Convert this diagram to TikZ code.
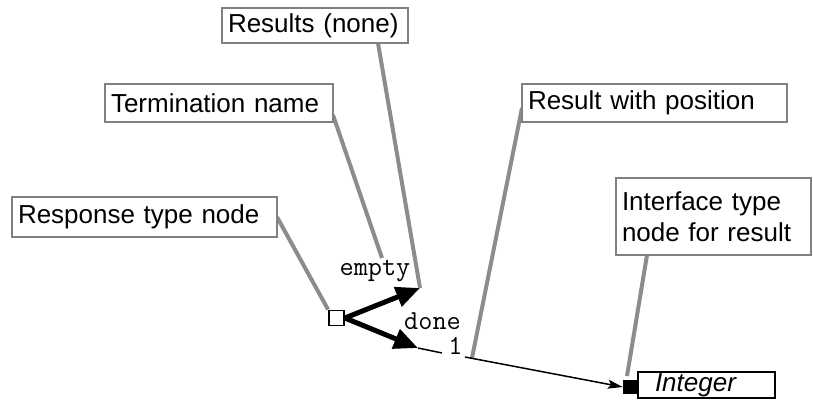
\documentclass[tikz,border=0pt]{standalone}
\usepackage{fontspec}
\setmainfont{Liberation Sans}
\usetikzlibrary{arrows.meta,calc}
\definecolor{boxgray}{RGB}{128,128,128}
\definecolor{leadgray}{RGB}{140,140,140}

\begin{document}
\begin{tikzpicture}[x=1pt,y=-1pt,
  callout/.style={draw=boxgray, line width=1.8pt, fill=white, inner xsep=6pt,
    inner ysep=0pt, align=left, font=\fontsize{26}{31}\selectfont},
  leader/.style={draw=leadgray, line width=4pt},
  codelabel/.style={font=\ttfamily\fontsize{27.5}{32}\selectfont, anchor=base, inner sep=0pt},
  flow/.style={line width=5pt, -{Triangle[length=24pt,width=20pt]}},
]
\useasboundingbox (0,0) rectangle (813,404);

% the response node, its ports and the result type
\node[draw, line width=1.8pt, fill=white, minimum width=15pt, minimum height=15pt,
  inner sep=0pt] (sq) at (336.5,318) {};
\node[fill=black, minimum width=15pt, minimum height=14pt, inner sep=0pt] (port) at (630.5,387) {};
\node[draw, line width=1.5pt, inner xsep=17pt, inner ysep=0pt, text width=103pt,
  minimum height=26pt, align=left, font=\fontsize{26}{31}\selectfont\itshape]
  (int) at (706.5,385) {Integer};

% ends of the termination arrows and of the callout leaders
\coordinate (emptyTip) at (420,288);
\coordinate (doneTip) at (418,348);
\coordinate (gapA) at (442,353);
\coordinate (gapB) at (465,357);
\coordinate (termEnd) at (382,258);
\coordinate (posEnd) at (472,358);
\coordinate (ifaceEnd) at (627,376);

% callout leaders (under the callout boxes)
\coordinate (respStart) at (277,217);
\coordinate (termStart) at (333,115);
\coordinate (resStart) at (378,43);
\coordinate (posStart) at (522,108);
\coordinate (ifaceStart) at (647,255);
\draw[leader] (respStart) -- (sq.north west);
\draw[leader] (termStart) -- (termEnd);
\draw[leader] (resStart) -- (emptyTip);
\draw[leader] (posStart) -- (posEnd);
\draw[leader] (ifaceStart) -- (ifaceEnd);

% callout boxes
\node[callout, text width=253pt, minimum height=40pt] (resp) at (144.5,217) {Response type node};
\node[callout, text width=216pt, minimum height=38pt] (term) at (219,103) {Termination name};
\node[callout, text width=174pt, minimum height=35pt] (res) at (315,25.5) {Results (none)};
\node[callout, text width=253pt, minimum height=38pt] (pos) at (654.5,103) {Result with position};
\node[callout, text width=183pt, minimum height=77pt] (iface) at (713.5,216.5) {Interface type\\node for result};

% terminations
\draw[flow] (sq.east) -- (emptyTip);
\draw[flow] (sq.east) -- (doneTip);
\node[codelabel] (emptyLbl) at (375,275) {empty};
\node[codelabel] (doneLbl) at (432.5,329) {done};
\node[codelabel] (oneLbl) at (455.5,354) {1};

% result link to its interface type
\draw[line width=1.5pt] (doneTip) -- (gapA);
\draw[line width=1.5pt, -{Stealth[length=15pt,width=9pt,inset=3pt]}] (gapB) -- (port.west);
\end{tikzpicture}
\end{document}
